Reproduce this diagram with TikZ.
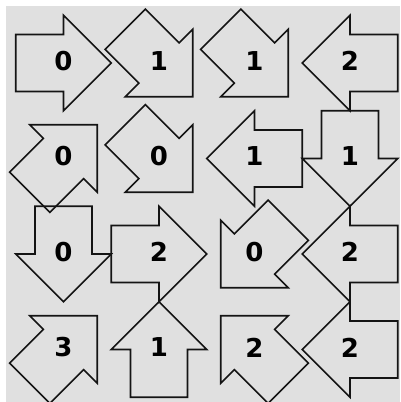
\documentclass[tikz,border=0pt]{standalone}
\usepackage{fontspec}
\setmainfont{DejaVu Sans}
\definecolor{boardgrey}{RGB}{224,224,224}
\definecolor{edgeblack}{RGB}{20,20,20}

\begin{document}
\begin{tikzpicture}[
    x=1pt, y=-1pt, line join=miter,
    tile/.style={draw=edgeblack, line width=1.6pt},
    digit/.style={font=\bfseries\fontsize{26}{26}\selectfont, inner sep=0pt},
  ]
  % --- page and board ---
  \useasboundingbox (0,0) rectangle (400,402);
  \fill[white] (0,0) rectangle (400,402);
  \fill[boardgrey] (6,6) rectangle (400,402);

  % --- arrows: column/row/direction/value ---
  \foreach \i/\j/\ang/\val in {%
      0/0/0/0,   1/0/-45/1, 2/0/-45/1, 3/0/180/2,
      0/1/45/0,  1/1/-45/0, 2/1/180/1, 3/1/270/1,
      0/2/270/0, 1/2/0/2,   2/2/225/0, 3/2/180/2,
      0/3/45/3,  1/3/90/1,  2/3/135/2, 3/3/180/2}{
    \coordinate (c-\i-\j) at ({63.5+95.5*\i},{63+95.5*\j});
    \draw[tile, shift={(c-\i-\j)}, rotate=\ang]
      (-47.75,-28.5) -- (0,-28.5) -- (0,-47.75) -- (47.75,0)
      -- (0,47.75) -- (0,28.5) -- (-47.75,28.5) -- cycle;
    \node[digit] (n-\i-\j) at ([yshift=2]c-\i-\j) {\val};
  }
\end{tikzpicture}
\end{document}
